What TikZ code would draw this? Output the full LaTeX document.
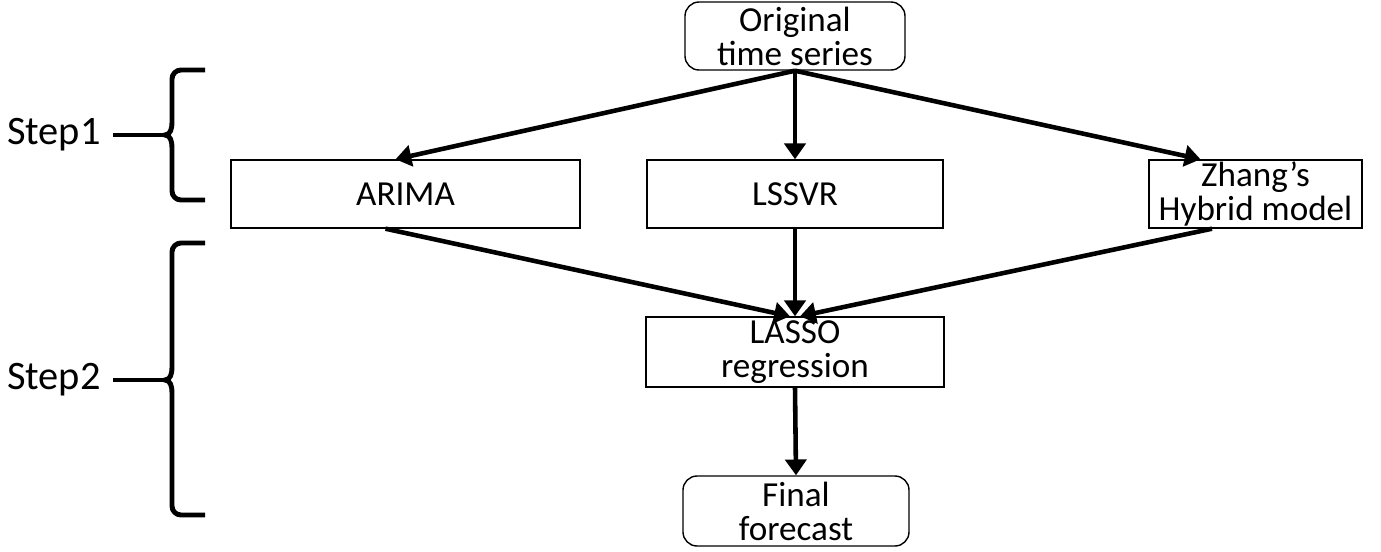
\documentclass[tikz,border=0pt]{standalone}
\usepackage{fontspec}
\setmainfont{Carlito}
\usetikzlibrary{arrows.meta,calc}
\begin{document}
\begin{tikzpicture}[
		box/.style={draw, line width=0.8pt, minimum height=1.36cm, inner sep=0pt, align=center, font=\fontsize{20}{19.3}\selectfont},
		endbox/.style={box, rounded corners=8pt},
		flow/.style={line width=2.6pt, -{Triangle[width=12pt,length=9pt]}},
		brace/.style={line width=2.8pt},
		steplabel/.style={anchor=east, inner sep=0pt, font=\fontsize{23}{24}\selectfont}]
		\useasboundingbox (0,0) rectangle (27.62,-11.02);
		% boxes
		\node (orig)  at (15.9,-0.72)  [endbox, minimum width=4.4cm]  {Original\\time series};
		\node (arima) at (8.11,-3.88)  [box, minimum width=6.98cm]    {ARIMA};
		\node (lssvr) at (15.9,-3.88)  [box, minimum width=5.92cm]    {LSSVR};
		\node (zhang) at (25.11,-3.88) [box, minimum width=4.26cm]    {Zhang’s\\Hybrid model};
		\node (lasso) at (15.9,-7.04)  [box, minimum width=5.96cm, minimum height=1.4cm] {LASSO\\regression};
		\node (final) at (15.92,-10.22) [endbox, minimum width=4.52cm, minimum height=1.4cm] {Final\\forecast};
		% step 1
		\draw [flow] (orig.south) -- ([xshift=-0.2cm]arima.north);
		\draw [flow] (orig.south) -- (lssvr.north);
		\draw [flow] (orig.south) -- ([xshift=-1.1cm]zhang.north);
		% step 2
		\draw [flow] ([xshift=-0.4cm]arima.south) -- ([xshift=-0.1cm]lasso.north);
		\draw [flow] (lssvr.south) -- (lasso.north);
		\draw [flow] ([xshift=-0.87cm]zhang.south) -- ([xshift=0.1cm]lasso.north);
		\draw [flow] (lasso.south) -- (final.north);
		% braces
		\coordinate (tip1) at (3.3,-2.7);
		\coordinate (tip2) at (3.3,-7.6);
		\node (step1) at (2.02,-2.7) [steplabel] {Step1};
		\node (step2) at (2.02,-7.6) [steplabel] {Step2};
		\draw [brace] (4.1,-1.4) -- (3.62,-1.4) to[out=180,in=90] (3.44,-1.58) -- (3.44,-2.45) to[out=-90,in=0] (tip1)
			to[out=0,in=90] (3.44,-2.95) -- (3.44,-3.82) to[out=-90,in=180] (3.62,-4.0) -- (4.1,-4.0);
		\draw [brace] (4.1,-4.86) -- (3.62,-4.86) to[out=180,in=90] (3.44,-5.04) -- (3.44,-7.35) to[out=-90,in=0] (tip2)
			to[out=0,in=90] (3.44,-7.85) -- (3.44,-10.12) to[out=-90,in=180] (3.62,-10.3) -- (4.1,-10.3);
		\draw [brace] ([xshift=0.24cm]step1.east) -- (tip1);
		\draw [brace] ([xshift=0.24cm]step2.east) -- (tip2);
\end{tikzpicture}
\end{document}
